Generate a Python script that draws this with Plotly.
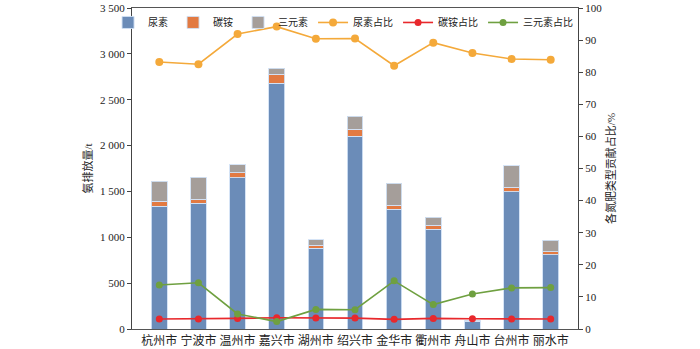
import plotly.graph_objects as go

# 各市氮肥氨排放量 (t) 及各类氮肥贡献占比 (%)
cities = ["杭州市", "宁波市", "温州市", "嘉兴市", "湖州市", "绍兴市",
          "金华市", "衢州市", "舟山市", "台州市", "丽水市"]

urea = [1341, 1370, 1650, 2679, 880, 2100, 1305, 1087, 84, 1497, 807]
ammonium_bicarb = [51, 47, 54, 101, 32, 80, 47, 43, 3, 51, 36]
compound = [218, 240, 87, 62, 62, 138, 236, 91, 10, 233, 127]

urea_share = [83.2, 82.5, 91.9, 94.2, 90.4, 90.5, 82.0, 89.2, 86.0, 84.1, 83.9]
bicarb_share = [3.1, 3.1, 3.3, 3.5, 3.4, 3.4, 3.0, 3.3, 3.2, 3.1, 3.1]
compound_share = [13.7, 14.4, 4.7, 2.3, 6.1, 6.0, 15.0, 7.6, 10.9, 12.8, 12.9]

left_ticks = [0, 500, 1000, 1500, 2000, 2500, 3000, 3500]
left_labels = ["0", "500", "1 000", "1 500", "2 000", "2 500", "3 000", "3 500"]
right_ticks = [0, 10, 20, 30, 40, 50, 60, 70, 80, 90, 100]

FONT = "'Liberation Serif', 'Noto Sans CJK SC', serif"
BLUE = "#6b8cb8"
ORANGE = "#e27a42"
GRAY = "#a59e9a"
YELLOW = "#f4a93a"
RED = "#e8282c"
GREEN = "#6fa040"

fig = go.Figure()

bar_line = dict(color="rgba(210,225,245,0.9)", width=1)
for name, vals, col in [("尿素", urea, BLUE),
                        ("碳铵", ammonium_bicarb, ORANGE),
                        ("三元素", compound, GRAY)]:
    fig.add_trace(go.Bar(x=cities, y=vals, name=name,
                         marker=dict(color=col, line=bar_line),
                         yaxis="y"))

for name, vals, col, msize in [("尿素占比", urea_share, YELLOW, 8),
                               ("碳铵占比", bicarb_share, RED, 7),
                               ("三元素占比", compound_share, GREEN, 7)]:
    fig.add_trace(go.Scatter(x=cities, y=vals, name=name, mode="lines+markers",
                             line=dict(color=col, width=1.6),
                             marker=dict(color=col, size=msize),
                             yaxis="y2"))

fig.update_layout(
    width=700, height=349,
    margin=dict(l=132, r=122, t=8, b=20),
    paper_bgcolor="white", plot_bgcolor="white",
    barmode="stack", bargap=0.6,
    font=dict(family=FONT, size=11, color="#222"),
    showlegend=True,
    # anchored just beyond the top-right corner so the single row may use the margin width
    legend=dict(orientation="h", x=1.0001, xanchor="right", y=1.0001, yanchor="top",
                traceorder="normal", bgcolor="rgba(0,0,0,0)",
                font=dict(size=10), itemwidth=30, tracegroupgap=0),
    xaxis=dict(showline=True, linecolor="#555", linewidth=1.2, mirror=True,
               ticks="", tickfont=dict(size=12, color="#222"), showgrid=False,
               automargin=False),
    yaxis=dict(range=[0, 3500], tickvals=left_ticks, ticktext=left_labels,
               showline=True, linecolor="#444", linewidth=1.2,
               ticks="outside", ticklen=4, tickcolor="#444",
               showgrid=False, zeroline=False, automargin=False,
               title=dict(text="氨排放量/t", font=dict(size=11), standoff=5)),
    yaxis2=dict(range=[0, 100], tickvals=right_ticks, overlaying="y", side="right",
                showline=True, linecolor="#444", linewidth=1.2,
                ticks="outside", ticklen=4, tickcolor="#444",
                showgrid=False, zeroline=False, automargin=False,
                title=dict(text="各氮肥类型贡献占比/%", font=dict(size=11), standoff=6)),
)

fig.write_html("out.html")
